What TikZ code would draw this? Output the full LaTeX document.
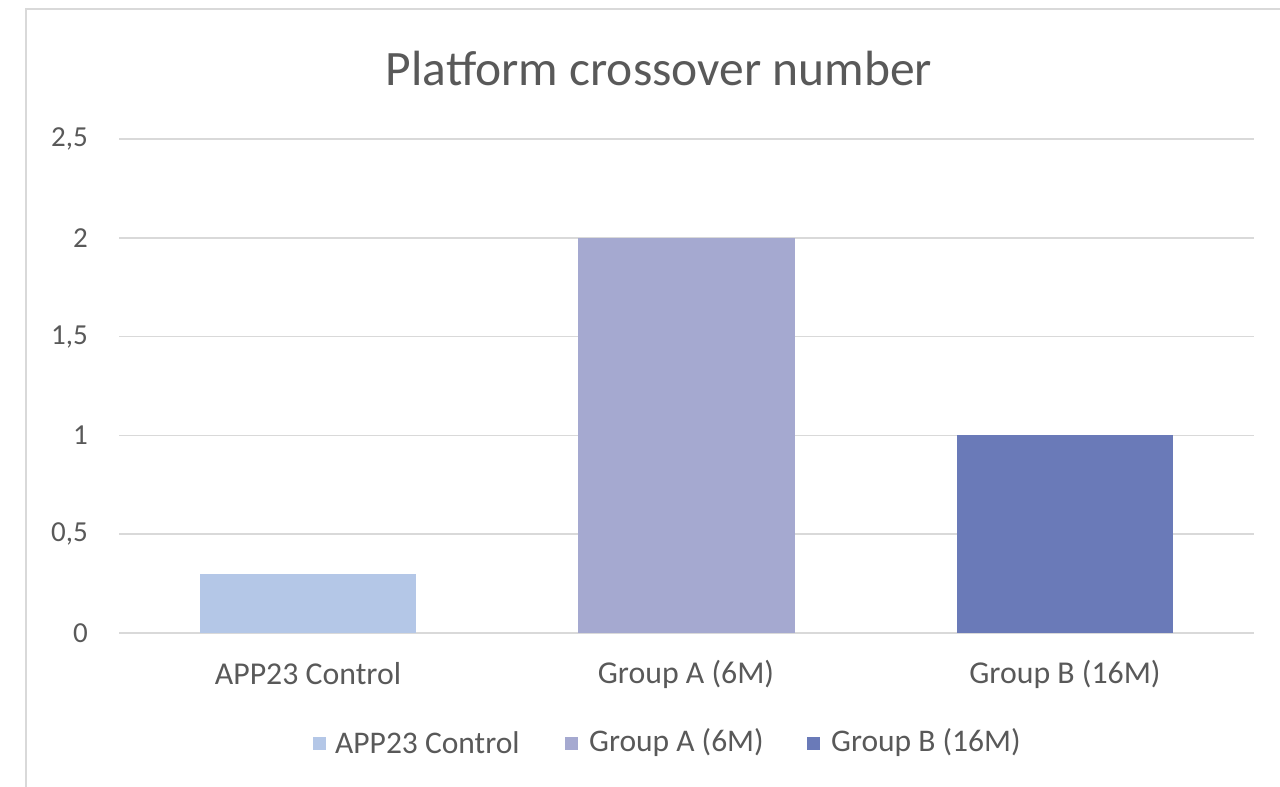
\documentclass[tikz,border=0pt]{standalone}
\usepackage{fontspec}
\setmainfont{Carlito}
\definecolor{txt}{HTML}{595959}
\definecolor{grid}{HTML}{D9D9D9}
\definecolor{cA}{HTML}{B4C7E7}
\definecolor{cB}{HTML}{A5A9D0}
\definecolor{cC}{HTML}{6A7AB8}
\tikzset{
  gridline/.style={draw=grid, line width=1.6pt},
  ylab/.style={text=txt, font=\fontsize{29}{32}\selectfont, anchor=east, inner sep=0pt},
  xlab/.style={text=txt, font=\fontsize{31.8}{36}\selectfont, anchor=center, inner sep=0pt},
  leglab/.style={text=txt, font=\fontsize{31.5}{36}\selectfont, anchor=west, inner sep=0pt},
  legsq/.style={minimum size=13pt, inner sep=0pt, draw=none}
}
\begin{document}
\begin{tikzpicture}[x=1pt,y=1pt]
\useasboundingbox (0,0) rectangle (1280,-787);
% frame
\draw[draw=grid, line width=1.6pt] (26,-800) -- (26,-9) -- (1300,-9);
% title
\node[text=txt, font=\fontsize{49.5}{56}\selectfont, inner sep=0pt] (title) at (659,-68) {Platform crossover number};
% grid lines and y labels
\foreach \v/\lab [count=\i] in {0/0,0.5/{0,5},1/1,1.5/{1,5},2/2,2.5/{2,5}} {
  \draw[gridline] (119,{-633+197.6*\v}) -- (1254,{-633+197.6*\v});
  \node[ylab] (y\i) at (88,{-633+197.6*\v}) {\lab};
}
% bars
\fill[cA] (200,-633) rectangle (416,{-633+197.6*0.3});
\fill[cB] (578,-633) rectangle (795,{-633+197.6*2});
\fill[cC] (957,-633) rectangle (1173,{-633+197.6*1});
% category labels
\node[xlab] (c1) at (308,-674) {APP23 Control};
\node[xlab] (c2) at (686,-674) {Group A (6M)};
\node[xlab] (c3) at (1065,-674) {Group B (16M)};
% legend
\node[legsq, fill=cA] (l1) at (319.5,-743) {};
\node[leglab] (t1) at (335,-743) {APP23 Control};
\node[legsq, fill=cB] (l2) at (571,-743) {};
\node[leglab] (t2) at (589,-743) {Group A (6M)};
\node[legsq, fill=cC] (l3) at (813,-743) {};
\node[leglab] (t3) at (831,-743) {Group B (16M)};
\end{tikzpicture}
\end{document}
